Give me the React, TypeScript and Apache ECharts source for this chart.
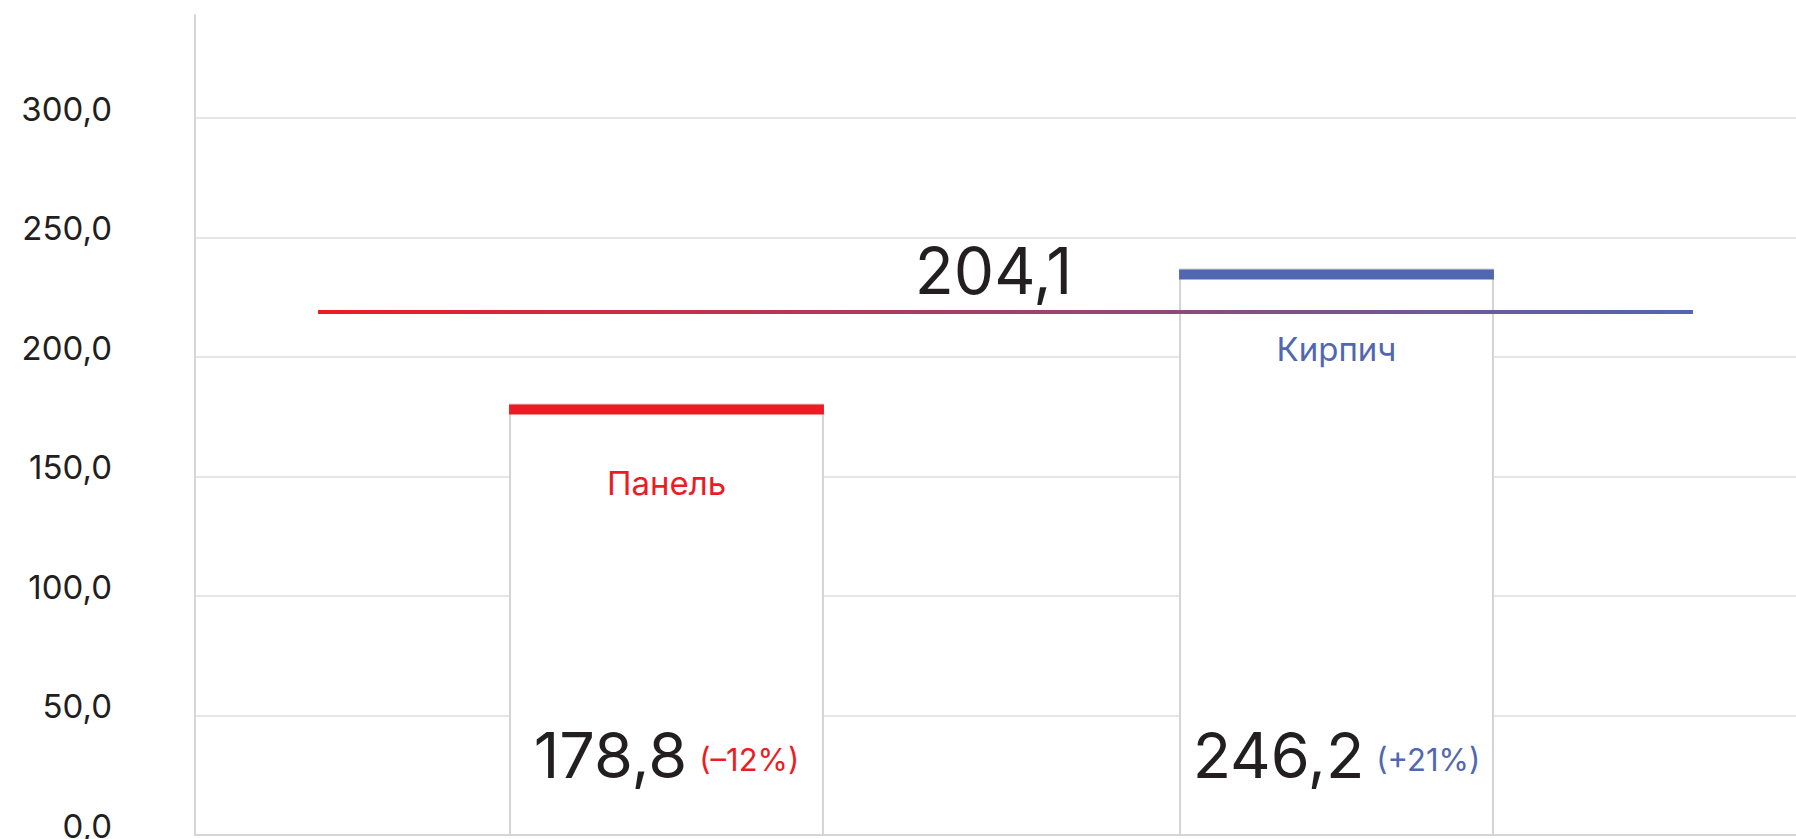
import React, { useEffect, useRef } from "react";
import * as echarts from "echarts";

// ---- data ----
const categories = ["Панель", "Кирпич"];
const barLevels = [180.1, 236.5]; // bar heights as drawn against the axis
const valueLabels = ["178,8", "246,2"];
const changeLabels = ["(–12%)", "(+21%)"];
const avgLevel = 218.8; // level of the average line as drawn
const avgLabel = "204,1";
const yMin = 0;
const yMax = 343;
const yInterval = 50;

const RED = "#ed1c24";
const BLUE = "#5167b0";
const DARK = "#231f20";
const FONT = "Inter";
const catColors = [RED, BLUE];

export default function App() {
  const ref = useRef<HTMLDivElement>(null);

  useEffect(() => {
    if (!ref.current) return;
    const chart = echarts.init(ref.current, null, { renderer: "svg" });

    const option: any = {
      animation: false,
      backgroundColor: "#ffffff",
      grid: [
        { left: 195, right: 0, top: 15, bottom: 4, outerBoundsMode: "none", containLabel: false },
        { left: 331.5, right: 124.5, top: 15, bottom: 4, outerBoundsMode: "none", containLabel: false },
      ],
      xAxis: [
        {
          gridIndex: 0,
          type: "category",
          data: categories,
          axisLine: { show: true, lineStyle: { color: "#d6d6d6", width: 2 } },
          axisTick: { show: false },
          axisLabel: { show: false },
          splitLine: { show: false },
        },
        { gridIndex: 1, type: "category", data: categories, show: false },
      ],
      yAxis: [
        {
          gridIndex: 0,
          type: "value",
          min: yMin,
          max: yMax,
          interval: yInterval,
          axisLine: { show: true, lineStyle: { color: "#d6d6d6", width: 2 } },
          axisTick: { show: false },
          splitLine: {
            show: true,
            showMaxLine: false,
            lineStyle: { color: "#dcdcdc", width: 1.5 },
          },
          axisLabel: {
            showMaxLabel: false,
            margin: 83,
            fontSize: 33,
            fontFamily: FONT,
            color: DARK,
            verticalAlign: "bottom",
            lineHeight: 18,
            formatter: (v: number) =>
              v % yInterval === 0 ? v.toFixed(1).replace(".", ",") : "",
          },
        },
        { gridIndex: 1, type: "value", min: yMin, max: yMax, show: false },
      ],
      series: [
        {
          type: "custom",
          xAxisIndex: 1,
          yAxisIndex: 1,
          clip: false,
          z: 3,
          data: barLevels.map((v, i) => [i, v]),
          renderItem: (params: any, api: any) => {
            const i = params.dataIndex;
            const top = api.coord([api.value(0), api.value(1)]);
            const base = api.coord([api.value(0), 0]);
            const bandW = api.size([1, 0])[0];
            const w = bandW * 0.467;
            const x = top[0] - w / 2;
            return {
              type: "group",
              children: [
                {
                  type: "rect",
                  shape: { x, y: top[1], width: w, height: base[1] - top[1] },
                  style: { fill: "#ffffff", stroke: "#d4d4d4", lineWidth: 2 },
                },
                {
                  type: "rect",
                  shape: { x: x - 1, y: top[1], width: w + 2, height: 10 },
                  style: { fill: catColors[i] },
                },
                {
                  type: "text",
                  x: top[0],
                  y: top[1] + 79,
                  style: {
                    text: categories[i],
                    fill: catColors[i],
                    fontSize: 33,
                    fontFamily: FONT,
                    align: "center",
                    verticalAlign: "middle",
                  },
                },
                {
                  type: "text",
                  x: top[0],
                  y: base[1] - 84,
                  style: {
                    text: `{v|${valueLabels[i]}}{c|${changeLabels[i]}}`,
                    align: "center",
                    verticalAlign: "middle",
                    rich: {
                      v: {
                        fontSize: 63,
                        fontFamily: FONT,
                        fill: DARK,
                        lineHeight: 70,
                        verticalAlign: "bottom",
                      },
                      c: {
                        fontSize: 31,
                        fontFamily: FONT,
                        fill: catColors[i],
                        lineHeight: 36,
                        verticalAlign: "bottom",
                        padding: [0, 0, 11, 12],
                      },
                    },
                  },
                },
              ],
            };
          },
        },
        {
          type: "custom",
          xAxisIndex: 1,
          yAxisIndex: 1,
          clip: false,
          z: 5,
          data: [[0, avgLevel]],
          renderItem: (params: any, api: any) => {
            const cs = params.coordSys;
            const y = api.coord([0, api.value(1)])[1];
            const x1 = cs.x - 13.5;
            const x2 = cs.x + cs.width + 21.5;
            return {
              type: "group",
              children: [
                {
                  type: "rect",
                  shape: { x: x1, y: y - 2, width: x2 - x1, height: 4 },
                  style: {
                    fill: new echarts.graphic.LinearGradient(0, 0, 1, 0, [
                      { offset: 0, color: RED },
                      { offset: 1, color: BLUE },
                    ]),
                  },
                },
                {
                  type: "text",
                  x: (x1 + x2) / 2 - 12,
                  y: y - 41,
                  style: {
                    text: avgLabel,
                    fill: DARK,
                    fontSize: 64,
                    fontFamily: FONT,
                    align: "center",
                    verticalAlign: "middle",
                  },
                },
              ],
            };
          },
        },
      ],
    };

    chart.setOption(option);
    return () => chart.dispose();
  }, []);

  return (
    <div
      ref={ref}
      style={{
        position: "fixed",
        left: 0,
        top: 0,
        width: 1796,
        height: 839,
        background: "#ffffff",
      }}
    />
  );
}
